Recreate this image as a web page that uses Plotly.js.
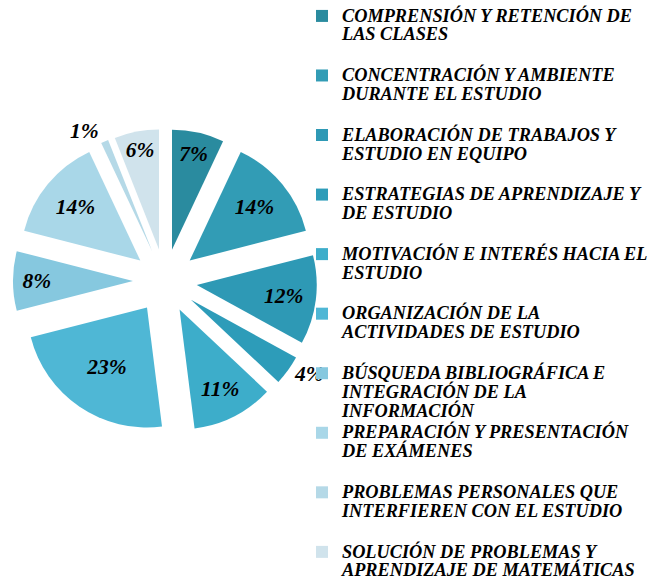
<!DOCTYPE html>
<html>
<head>
<meta charset="utf-8">
<script src="https://cdn.plot.ly/plotly-3.0.1.min.js"></script>
<style>html,body{margin:0;padding:0;background:#fff}#chart{width:668px;height:586px}</style>
</head>
<body>
<div id="chart"></div>
<script>
// Categories (legend lines kept as arrays of text lines)
var categoryLines = [
  ["COMPRENSIÓN Y RETENCIÓN DE", "LAS CLASES"],
  ["CONCENTRACIÓN Y AMBIENTE", "DURANTE EL ESTUDIO"],
  ["ELABORACIÓN DE TRABAJOS Y", "ESTUDIO EN EQUIPO"],
  ["ESTRATEGIAS DE APRENDIZAJE Y", "DE ESTUDIO"],
  ["MOTIVACIÓN E INTERÉS HACIA EL", "ESTUDIO"],
  ["ORGANIZACIÓN DE LA", "ACTIVIDADES DE ESTUDIO"],
  ["BÚSQUEDA BIBLIOGRÁFICA E", "INTEGRACIÓN DE LA", "INFORMACIÓN"],
  ["PREPARACIÓN Y PRESENTACIÓN", "DE EXÁMENES"],
  ["PROBLEMAS PERSONALES QUE", "INTERFIEREN CON EL ESTUDIO"],
  ["SOLUCIÓN DE PROBLEMAS Y", "APRENDIZAJE DE MATEMÁTICAS"]
];
// Percentages
var values = [7, 14, 12, 4, 11, 23, 8, 14, 1, 6];
// Slice colours
var colors = ["#2a8b9f", "#329cb5", "#2e99b5", "#2d9cb9", "#3dadca", "#4fb7d5", "#86c8df", "#a9d7e8", "#b5d9e7", "#d0e3ec"];

var textSize = 18.3;
var labels = categoryLines.map(function (lines, i) {
  var body = lines.map(function (l) { return '<span style="font-size:' + textSize + 'px">' + l + '</span>'; }).join('<br>');
  // pad to 3 lines so each legend entry has the same pitch (last one needs no padding)
  if (lines.length < 3 && i < categoryLines.length - 1) body += '<br> ';
  return body;
});
var textPos = values.map(function (v) { return v < 5 ? 'outside' : 'inside'; });

var W = 668, H = 586;
var cx = 165, cy = 281, half = 152;

var trace = {
  type: 'pie',
  labels: labels,
  values: values,
  sort: false,
  direction: 'clockwise',
  rotation: 0,
  pull: 0.267,
  marker: {colors: colors, line: {width: 0}},
  texttemplate: '%{percent:.0%}',
  textposition: textPos,
  insidetextorientation: 'horizontal',
  textfont: {family: 'Liberation Serif', size: 21.5, color: '#000', weight: 'bold', style: 'italic'},
  outsidetextfont: {family: 'Liberation Serif', size: 21.5, color: '#000', weight: 'bold', style: 'italic'},
  hoverinfo: 'label+percent',
  domain: {
    x: [(cx - half) / W, (cx + half) / W],
    y: [(H - cy - half) / H, (H - cy + half) / H]
  }
};

var layout = {
  width: W, height: H,
  margin: {l: 0, r: 0, t: 0, b: 0},
  paper_bgcolor: '#fff',
  showlegend: true,
  legend: {
    x: 302 / W, xanchor: 'left',
    y: 1, yanchor: 'top',
    valign: 'top',
    maxheight: 600,
    font: {family: 'Liberation Serif', size: 14.5, color: '#000', weight: 'bold', style: 'italic'},
    bgcolor: 'rgba(0,0,0,0)',
    traceorder: 'normal'
  }
};

Plotly.newPlot('chart', [trace], layout, {displayModeBar: false, staticPlot: true});
</script>
</body>
</html>
